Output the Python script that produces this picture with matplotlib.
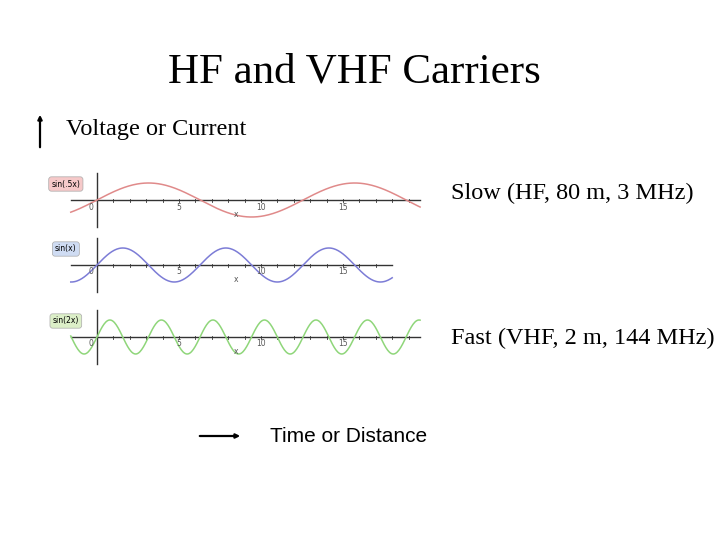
import numpy as np
import matplotlib
matplotlib.use("Agg")
import matplotlib.pyplot as plt

# series: frequency multiplier, label, colours, x extent of curve
freqs = [0.5, 1.0, 2.0]
labels = ["sin(.5x)", "sin(x)", "sin(2x)"]
line_colors = ["#e08a8a", "#7c7cd6", "#8fd67a"]
box_colors = ["#f6c9c9", "#cfdcf3", "#dcefc8"]
x_ends = [19.7, 18.0, 19.7]
axis_ends = [19.7, 18.0, 19.7]
row_px = [200, 265, 337]
amp_px = 17
ticks = [0, 5, 10, 15]

W, H = 720, 540
fig = plt.figure(figsize=(7.2, 5.4), dpi=100)
serif = ["Liberation Serif", "DejaVu Serif"]
sans = ["Liberation Sans", "DejaVu Sans"]

def fx(px):
    return px / W

def fy(py):
    return 1 - py / H

fig.text(fx(354), fy(72), "HF and VHF Carriers", family=serif, fontsize=31,
         ha="center", va="center")
fig.text(fx(66), fy(130), "Voltage or Current", family=serif, fontsize=17.5,
         ha="left", va="center")
fig.text(fx(451), fy(193), "Slow (HF, 80 m, 3 MHz)", family=serif, fontsize=17.5,
         ha="left", va="center")
fig.text(fx(451), fy(338), "Fast (VHF, 2 m, 144 MHz)", family=serif, fontsize=17.5,
         ha="left", va="center")
fig.text(fx(270), fy(436), "Time or Distance", family=sans, fontsize=15,
         ha="left", va="center")

# arrows
fig.patches.append(matplotlib.patches.FancyArrowPatch(
    (fx(40), fy(150)), (fx(40), fy(112)), transform=fig.transFigure,
    arrowstyle="-|>", mutation_scale=6, lw=1.6, color="black"))
fig.patches.append(matplotlib.patches.FancyArrowPatch(
    (fx(197), fy(436)), (fx(243), fy(436)), transform=fig.transFigure,
    arrowstyle="-|>", mutation_scale=6, lw=1.6, color="black"))

# sine panel: x in data units (16.4 px per unit, 0 at px 97), y in -pixels
px_unit = 16.4
x0_px = 97
left_px, right_px, top_px, bot_px = 55, 425, 165, 380
ax = fig.add_axes([fx(left_px), fy(bot_px), (right_px - left_px) / W,
                   (bot_px - top_px) / H])
ax.set_xlim((left_px - x0_px) / px_unit, (right_px - x0_px) / px_unit)
ax.set_ylim(-bot_px, -top_px)
ax.axis("off")

for f, lab, lc, bc, xe, ae, row in zip(freqs, labels, line_colors, box_colors,
                                       x_ends, axis_ends, row_px):
    x = np.linspace(-1.6, xe, 400)
    ax.plot([-1.6, ae], [-row, -row], color="#333333", lw=1.0)
    ax.plot([0, 0], [-row - 27, -row + 27], color="#333333", lw=1.0)
    for t in np.arange(1, ae, 1):
        ax.plot([t, t], [-row - 1.5, -row + 1.5], color="#333333", lw=0.6)
    for t in ticks:
        ax.text(t - 0.4 if t == 0 else t, -row - 7, str(t), fontsize=5.5,
                color="#555555", ha="center", va="center")
    ax.text(8.5, -row - 17, "x", fontsize=5.5, color="#555555", ha="center")
    ax.plot(x, -row + amp_px * np.sin(f * x), color=lc, lw=1.1)
    ax.text(-1.9, -row + 16, lab, fontsize=5.5, ha="center", va="center",
            bbox=dict(boxstyle="round,pad=0.35", fc=bc, ec="#aaaaaa", lw=0.5))

fig.savefig("out.png", dpi=100)
